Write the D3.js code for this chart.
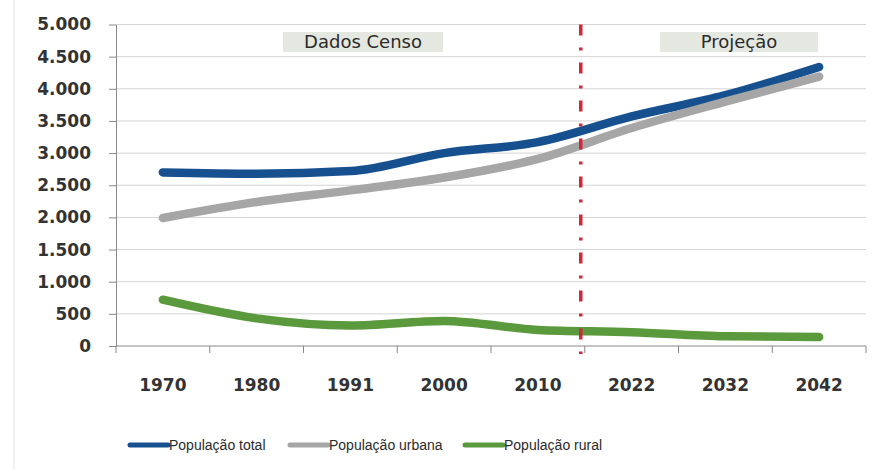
<!DOCTYPE html>
<html>
<head>
<meta charset="utf-8">
<script src="https://d3js.org/d3.v7.min.js"></script>
<style>
body { margin: 0; background: #fff; }
svg { display: block; }
</style>
</head>
<body>
<div id="root"></div>
<script>
let years = ['1970', '1980', '1991', '2000', '2010', '2022', '2032', '2042'];
let total = [2700, 2680, 2720, 3000, 3170, 3570, 3900, 4340];
let urbana = [1990, 2240, 2420, 2620, 2910, 3390, 3800, 4190];
let rural = [720, 430, 320, 390, 250, 215, 150, 140];
let y_ticks = [0, 500, 1000, 1500, 2000, 2500, 3000, 3500, 4000, 4500, 5000];
let series_names = ['População total', 'População urbana', 'População rural'];
let series_colors = ['#17508f', '#a6a6a6', '#5b9a3c'];

let width = 881, height = 470;
let plot_left = 116, plot_right = 866, plot_top = 24.5, plot_bottom = 346;

let svg = d3.select('#root').append('svg')
    .attr('width', width)
    .attr('height', height);

let x = d3.scaleBand().domain(years).range([plot_left, plot_right]);
let y = d3.scaleLinear().domain([0, 5000]).range([plot_bottom, plot_top]);

let fmt = d => d3.format(',')(d).replace(/,/g, '.');

// frame line at far left
svg.append('line')
    .attr('x1', 14).attr('x2', 14).attr('y1', 0).attr('y2', height)
    .attr('stroke', '#e4e4e4');

// gridlines
svg.append('g')
    .selectAll('line')
    .data(y_ticks.filter(d => d > 0))
    .join('line')
    .attr('x1', plot_left).attr('x2', plot_right)
    .attr('y1', d => y(d)).attr('y2', d => y(d))
    .attr('stroke', '#d4d4d4')
    .attr('stroke-width', 1);

// y axis
let ay = svg.append('g')
    .attr('transform', `translate(${plot_left},0)`)
    .call(d3.axisLeft(y).tickValues(y_ticks).tickFormat(fmt).tickSize(7).tickPadding(18).tickSizeOuter(0));
ay.select('.domain').attr('stroke', '#888');
ay.selectAll('.tick line').attr('stroke', '#888');
ay.selectAll('text')
    .attr('font-family', 'DejaVu Sans')
    .attr('font-weight', 'bold')
    .attr('font-size', 17)
    .attr('fill', '#333');

// x axis with ticks between categories
let ax = svg.append('g').attr('transform', `translate(0,${plot_bottom})`);
ax.append('line')
    .attr('x1', plot_left).attr('x2', plot_right)
    .attr('stroke', '#888');
ax.selectAll('line.tk')
    .data(years.map((d, i) => i).concat([years.length]))
    .join('line')
    .attr('class', 'tk')
    .attr('x1', i => plot_left + i * x.step()).attr('x2', i => plot_left + i * x.step())
    .attr('y1', 0).attr('y2', 7)
    .attr('stroke', '#888');
ax.selectAll('text')
    .data(years)
    .join('text')
    .attr('x', d => x(d) + x.bandwidth() / 2)
    .attr('y', 39)
    .attr('dy', '0.35em')
    .attr('text-anchor', 'middle')
    .attr('font-family', 'DejaVu Sans')
    .attr('font-weight', 'bold')
    .attr('font-size', 17)
    .attr('fill', '#333');

ax.selectAll('text').text(d => d);

// period labels
let boxes = [
    { label: 'Dados Censo', x0: 283, x1: 443 },
    { label: 'Projeção', x0: 660, x1: 818 }
];
let bg = svg.append('g').selectAll('g').data(boxes).join('g');
bg.append('rect')
    .attr('x', d => d.x0).attr('y', 32)
    .attr('width', d => d.x1 - d.x0).attr('height', 20)
    .attr('fill', '#e5e8e0');
bg.append('text')
    .attr('x', d => (d.x0 + d.x1) / 2)
    .attr('y', 42)
    .attr('dy', '0.35em')
    .attr('text-anchor', 'middle')
    .attr('font-family', 'DejaVu Sans')
    .attr('font-size', 18)
    .attr('fill', '#2b2b2b')
    .text(d => d.label);

// lines
let line = d3.line()
    .x((d, i) => x(years[i]) + x.bandwidth() / 2)
    .y(d => y(d))
    .curve(d3.curveMonotoneX);

svg.append('g')
    .selectAll('path')
    .data([total, urbana, rural])
    .join('path')
    .attr('d', line)
    .attr('fill', 'none')
    .attr('stroke', (d, i) => series_colors[i])
    .attr('stroke-width', 8.5)
    .attr('stroke-linecap', 'round')
    .attr('stroke-linejoin', 'round');

// dividing line between census and projection
let split = x('2022') - 4;
svg.append('line')
    .attr('x1', split).attr('x2', split)
    .attr('y1', plot_top).attr('y2', plot_bottom + 8)
    .attr('stroke', '#d0283a')
    .attr('stroke-width', 3.5)
    .attr('stroke-dasharray', '11 12 3 12');

// legend
let legend_x = [130, 290, 465];
let lg = svg.append('g')
    .selectAll('g')
    .data(series_names)
    .join('g')
    .attr('transform', (d, i) => `translate(${legend_x[i]},445)`);
lg.append('line')
    .attr('x1', 0).attr('x2', 38)
    .attr('stroke', (d, i) => series_colors[i])
    .attr('stroke-width', 5)
    .attr('stroke-linecap', 'round');
lg.append('text')
    .attr('x', 39)
    .attr('dy', '0.35em')
    .attr('font-family', 'Liberation Sans')
    .attr('font-size', 14)
    .attr('fill', '#2b2b2b')
    .text(d => d);
</script>
</body>
</html>
